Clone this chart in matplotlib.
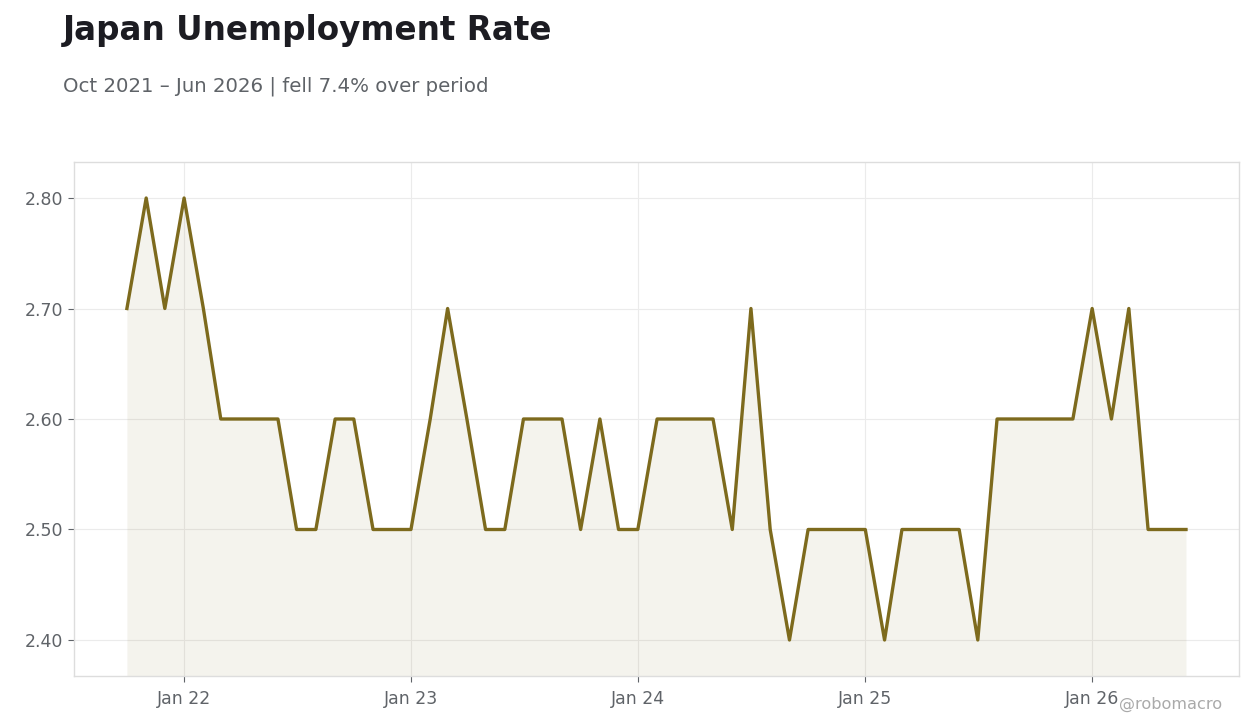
import numpy as np
import pandas as pd
import matplotlib
matplotlib.use("Agg")
import matplotlib.pyplot as plt
import matplotlib.dates as mdates

plt.rcParams["font.family"] = ["DejaVu Sans"]

# monthly, Oct 2021 .. Jun 2026
dates = pd.date_range("2021-10-01", "2026-06-01", freq="MS")
rate = [2.7, 2.8, 2.7,
        2.8, 2.7, 2.6, 2.6, 2.6, 2.6, 2.5, 2.5, 2.6, 2.6, 2.5, 2.5,
        2.5, 2.6, 2.7, 2.6, 2.5, 2.5, 2.6, 2.6, 2.6, 2.5, 2.6, 2.5,
        2.5, 2.6, 2.6, 2.6, 2.6, 2.5, 2.7, 2.5, 2.4, 2.5, 2.5, 2.5,
        2.5, 2.4, 2.5, 2.5, 2.5, 2.5, 2.4, 2.6, 2.6, 2.6, 2.6, 2.6,
        2.7, 2.6, 2.7, 2.5, 2.5, 2.5]

title = "Japan Unemployment Rate"
subtitle = "Oct 2021 – Jun 2026 | fell 7.4% over period"
line_col = "#7d6a1d"
text_col = "#5f6368"

fig = plt.figure(figsize=(12.6, 7.28), dpi=100)
ax = fig.add_axes([0.0587, 0.0714, 0.9246, 0.7061])

ymin = 2.3674
ax.fill_between(dates, rate, ymin, color="#7d6a1d", alpha=0.08, linewidth=0)
ax.plot(dates, rate, color=line_col, lw=2.4)

ax.set_ylim(ymin, 2.8326)
ax.margins(x=0.05)
ax.set_yticks([2.4, 2.5, 2.6, 2.7, 2.8])
ax.yaxis.set_major_formatter(matplotlib.ticker.FormatStrFormatter("%.2f"))
ax.xaxis.set_major_locator(mdates.MonthLocator(bymonth=1))
ax.xaxis.set_major_formatter(mdates.DateFormatter("%b %y"))

ax.grid(True, color="#ebebeb", lw=0.8)
ax.set_axisbelow(True)
for s in ax.spines.values():
    s.set_color("#dddddd")
    s.set_linewidth(1)
ax.tick_params(colors=text_col, labelsize=12.5, length=4, width=0.8)
ax.tick_params(axis="x", pad=6)

fig.text(0.05, 0.958, title, fontsize=23.5, fontweight="bold", color="#1c1c22",
         va="center", ha="left")
fig.text(0.05, 0.882, subtitle, fontsize=14.2, color=text_col, va="center", ha="left")
fig.text(0.97, 0.032, "@robomacro", fontsize=11.6, color="#aaaaaa", ha="right", va="center")

fig.savefig("out.png", dpi=100)
